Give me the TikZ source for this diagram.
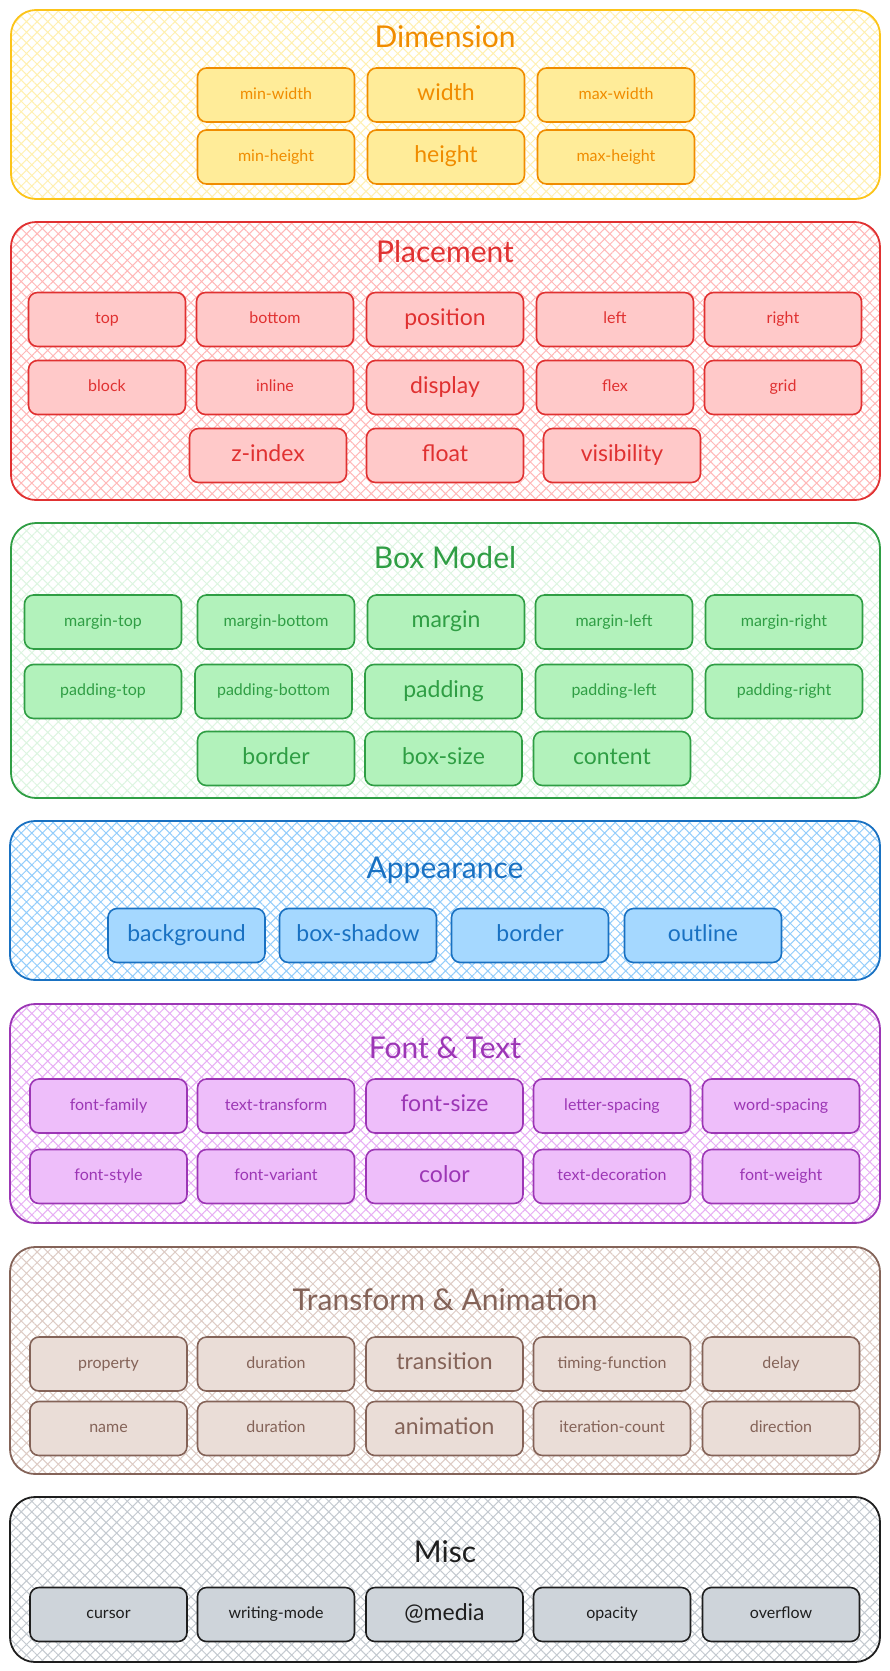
\documentclass[tikz,border=0pt]{standalone}
\usepackage{fontspec}
\setmainfont{Lato}
\usetikzlibrary{patterns.meta}
\definecolor{dimS}{HTML}{F08C00}\definecolor{dimF}{HTML}{FFEC99}\definecolor{dimC}{HTML}{FCC419}\definecolor{dimH}{HTML}{FFF0B0}
\definecolor{plS}{HTML}{E03131}\definecolor{plF}{HTML}{FFC9C9}\definecolor{plH}{HTML}{FFB8B8}
\definecolor{bmS}{HTML}{2F9E44}\definecolor{bmF}{HTML}{B2F2BB}\definecolor{bmH}{HTML}{DDF5E1}
\definecolor{apS}{HTML}{1971C2}\definecolor{apF}{HTML}{A5D8FF}\definecolor{apH}{HTML}{93CDFB}
\definecolor{ftS}{HTML}{9C36B5}\definecolor{ftF}{HTML}{EEBEFA}\definecolor{ftH}{HTML}{E7AEF5}
\definecolor{trS}{HTML}{846358}\definecolor{trF}{HTML}{EADDD7}\definecolor{trH}{HTML}{DDCCC5}
\definecolor{mcS}{HTML}{1E1E1E}\definecolor{mcF}{HTML}{CED4DA}\definecolor{mcH}{HTML}{C4CAD0}
\tikzset{
  bx/.style={draw, rounded corners=9pt, line width=1.6pt, minimum width=157pt, minimum height=54pt, inner sep=1pt, text height=9pt, text depth=1pt, font=\fontsize{16}{18}\selectfont},
  big/.style={font=\fontsize{23}{26}\selectfont, text height=13pt, text depth=1.4pt},
  ttl/.style={font=\fontsize{30}{34}\selectfont},
  cont/.style={rounded corners=25pt, line width=1.8pt},
  hatch/.style={pattern={Hatch[angle=45,distance=7.5pt,line width=1pt]}, pattern color=#1},
  dim/.style={bx, draw=dimS, fill=dimF, text=dimS},
  pl/.style={bx, draw=plS, fill=plF, text=plS},
  bm/.style={bx, draw=bmS, fill=bmF, text=bmS},
  ap/.style={bx, draw=apS, fill=apF, text=apS},
  ft/.style={bx, draw=ftS, fill=ftF, text=ftS},
  tr/.style={bx, draw=trS, fill=trF, text=trS},
  mc/.style={bx, draw=mcS, fill=mcF, text=mcS},
}
\begin{document}
\begin{tikzpicture}[x=1pt,y=-1pt]
\useasboundingbox (0,0) rectangle (890,1671);
\fill[white] (0,0) rectangle (890,1671);

% Dimension
\fill[cont, hatch=dimH] (11,10) rectangle (880,199);
\draw[cont, draw=dimC] (11,10) rectangle (880,199);
\node[ttl, text=dimS] (tdim) at (445,37) {Dimension};
\node[dim] (minwidth) at (276,95) {min-width};
\node[dim, big] (width) at (446,95) {width};
\node[dim] (maxwidth) at (616,95) {max-width};
\node[dim] (minheight) at (276,157) {min-height};
\node[dim, big] (height) at (446,157) {height};
\node[dim] (maxheight) at (616,157) {max-height};

% Placement
\fill[cont, hatch=plH] (11,222) rectangle (880,500);
\draw[cont, draw=plS] (11,222) rectangle (880,500);
\node[ttl, text=plS] (tpl) at (445,252) {Placement};
\node[pl] (top) at (107,319.5) {top};
\node[pl] (bottom) at (275,319.5) {bottom};
\node[pl, big] (position) at (445,319.5) {position};
\node[pl] (left) at (615,319.5) {left};
\node[pl] (right) at (783,319.5) {right};
\node[pl] (block) at (107,387.5) {block};
\node[pl] (inline) at (275,387.5) {inline};
\node[pl, big] (display) at (445,387.5) {display};
\node[pl] (flex) at (615,387.5) {flex};
\node[pl] (grid) at (783,387.5) {grid};
\node[pl, big] (zindex) at (268,455.5) {z-index};
\node[pl, big] (float) at (445,455.5) {float};
\node[pl, big] (visibility) at (622,455.5) {visibility};

% Box Model
\fill[cont, hatch=bmH] (11,523) rectangle (880,798);
\draw[cont, draw=bmS] (11,523) rectangle (880,798);
\node[ttl, text=bmS] (tbm) at (445,558) {Box Model};
\node[bm] (margintop) at (103,622) {margin-top};
\node[bm] (marginbottom) at (276,622) {margin-bottom};
\node[bm, big] (margin) at (446,622) {margin};
\node[bm] (marginleft) at (614,622) {margin-left};
\node[bm] (marginright) at (784,622) {margin-right};
\node[bm] (paddingtop) at (103,691.5) {padding-top};
\node[bm] (paddingbottom) at (273.5,691.5) {padding-bottom};
\node[bm, big] (padding) at (443.5,691.5) {padding};
\node[bm] (paddingleft) at (614,691.5) {padding-left};
\node[bm] (paddingright) at (784,691.5) {padding-right};
\node[bm, big] (bmborder) at (276,758.5) {border};
\node[bm, big] (boxsize) at (443.5,758.5) {box-size};
\node[bm, big] (content) at (612,758.5) {content};

% Appearance
\fill[cont, hatch=apH] (10,821) rectangle (880,980);
\draw[cont, draw=apS] (10,821) rectangle (880,980);
\node[ttl, text=apS] (tap) at (445,870) {Appearance};
\node[ap, big] (background) at (186.5,935.5) {background};
\node[ap, big] (boxshadow) at (358,935.5) {box-shadow};
\node[ap, big] (apborder) at (530,935.5) {border};
\node[ap, big] (outline) at (703,935.5) {outline};

% Font & Text
\fill[cont, hatch=ftH] (10,1004) rectangle (880,1223);
\draw[cont, draw=ftS] (10,1004) rectangle (880,1223);
\node[ttl, text=ftS] (tft) at (445,1048) {Font \& Text};
\node[ft] (fontfamily) at (108.5,1106) {font-family};
\node[ft] (texttransform) at (276,1106) {text-transform};
\node[ft, big] (fontsize) at (444.5,1106) {font-size};
\node[ft] (letterspacing) at (612,1106) {letter-spacing};
\node[ft] (wordspacing) at (781,1106) {word-spacing};
\node[ft] (fontstyle) at (108.5,1176.5) {font-style};
\node[ft] (fontvariant) at (276,1176.5) {font-variant};
\node[ft, big] (color) at (444.5,1176.5) {color};
\node[ft] (textdecoration) at (612,1176.5) {text-decoration};
\node[ft] (fontweight) at (781,1176.5) {font-weight};

% Transform & Animation
\fill[cont, hatch=trH] (10,1247) rectangle (880,1474);
\draw[cont, draw=trS] (10,1247) rectangle (880,1474);
\node[ttl, text=trS] (ttr) at (445,1300) {Transform \& Animation};
\node[tr] (property) at (108.5,1364) {property};
\node[tr] (durationa) at (276,1364) {duration};
\node[tr, big] (transition) at (444.5,1364) {transition};
\node[tr] (timingfunction) at (612,1364) {timing-function};
\node[tr] (delay) at (781,1364) {delay};
\node[tr] (name) at (108.5,1428.5) {name};
\node[tr] (durationb) at (276,1428.5) {duration};
\node[tr, big] (animation) at (444.5,1428.5) {animation};
\node[tr] (iterationcount) at (612,1428.5) {iteration-count};
\node[tr] (direction) at (781,1428.5) {direction};

% Misc
\fill[cont, hatch=mcH] (10,1497) rectangle (880,1662);
\draw[cont, draw=mcS] (10,1497) rectangle (880,1662);
\node[ttl, text=mcS] (tmc) at (445,1552) {Misc};
\node[mc] (cursor) at (108.5,1614.5) {cursor};
\node[mc] (writingmode) at (276,1614.5) {writing-mode};
\node[mc, big] (media) at (444.5,1614.5) {@media};
\node[mc] (opacity) at (612,1614.5) {opacity};
\node[mc] (overflow) at (781,1614.5) {overflow};
\end{tikzpicture}
\end{document}
